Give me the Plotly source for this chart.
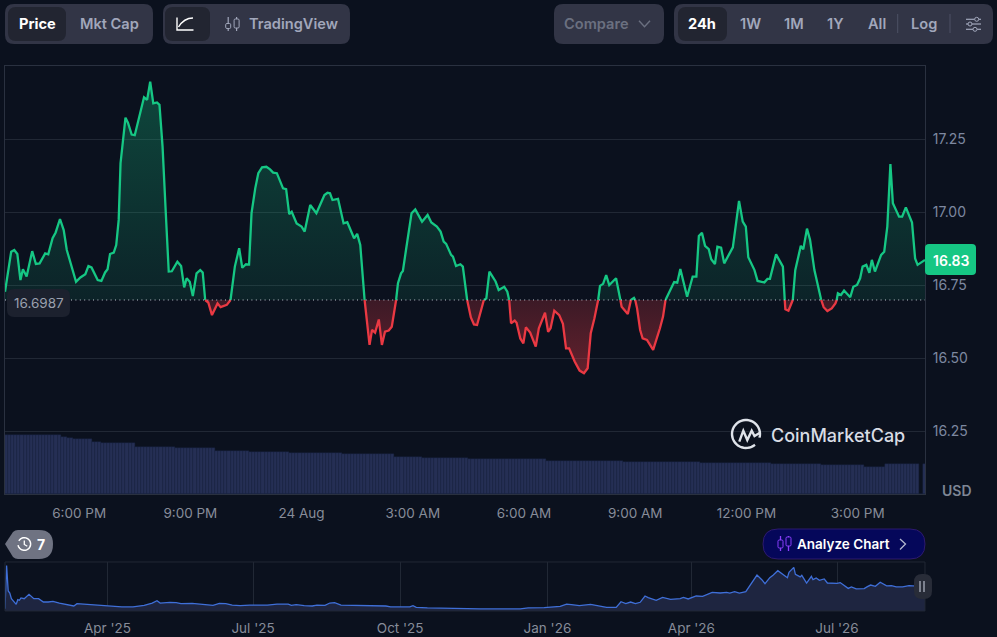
""" CoinMarketCap style 24h price chart with volume bars and a history navigator.

"""
import numpy as np
import pandas as pd
import plotly.graph_objects as go

W, H = 997, 637
BG = "#0b111e"
GRID = "#212835"
GREEN = "#16c784"
RED = "#ea3943"
FONT = "Inter"

open_price = 16.6987
last_price = "16.83"

# minutes after 4:00 PM on 23 Aug
price_minutes = [
    0, 4, 10, 15, 20, 25, 29, 35, 44, 50, 56, 65, 70, 77, 82, 89, 95, 100, 115, 122,
    130, 135, 140, 150, 156, 162, 166, 170, 176, 180, 184, 187, 191, 195, 199, 205, 210, 225, 230, 235,
    240, 246, 250, 255, 260, 265, 270, 279, 285, 290, 294, 299, 304, 310, 316, 320, 324, 329, 335, 344,
    349, 359, 365, 372, 379, 384, 390, 395, 399, 405, 410, 416, 423, 429, 434, 440, 450, 455, 460, 464,
    472, 480, 485, 494, 504, 517, 522, 526, 530, 539, 548, 554, 565, 570, 575, 582, 590, 594, 599, 605,
    610, 615, 621, 626, 630, 633, 636, 641, 644, 649, 658, 664, 675, 684, 690, 699, 705, 710, 714, 722,
    725, 730, 737, 741, 748, 754, 759, 764, 775, 779, 784, 794, 799, 808, 813, 816, 819, 825, 828, 834,
    839, 843, 850, 859, 864, 874, 879, 883, 889, 897, 903, 908, 913, 922, 930, 937, 943, 948, 954, 960,
    963, 968, 973, 978, 989, 996, 998, 1008, 1013, 1018, 1020, 1023, 1028, 1032, 1039, 1049, 1060, 1065, 1069, 1077,
    1083, 1088, 1093, 1104, 1113, 1119, 1123, 1128, 1133, 1139, 1143, 1149, 1153, 1159, 1164, 1178, 1188, 1194, 1199, 1203,
    1213, 1218, 1229, 1234, 1238, 1248, 1259, 1262, 1263, 1268, 1275, 1279, 1288, 1292, 1298, 1303, 1310, 1321, 1325, 1331,
    1338, 1344, 1346, 1348, 1353, 1358, 1368, 1373, 1379, 1384, 1388, 1394, 1399, 1403, 1408, 1418, 1423, 1428, 1433, 1437,
    1447, 1452, 1458, 1468, 1473, 1477, 1489,
]
price_values = [
    16.727, 16.779, 16.864, 16.870, 16.856, 16.767, 16.804, 16.779, 16.866, 16.822, 16.824, 16.858, 16.855, 16.910, 16.930, 16.976, 16.938, 16.870, 16.761, 16.776,
    16.787, 16.815, 16.810, 16.767, 16.764, 16.793, 16.804, 16.856, 16.861, 16.887, 16.973, 17.167, 17.247, 17.323, 17.306, 17.265, 17.263, 17.393, 17.384, 17.446,
    17.372, 17.375, 17.367, 17.224, 17.007, 16.796, 16.797, 16.830, 16.815, 16.742, 16.773, 16.761, 16.712, 16.790, 16.801, 16.793, 16.6987, 16.690, 16.647, 16.687,
    16.674, 16.682, 16.6987, 16.813, 16.876, 16.809, 16.821, 16.820, 16.996, 17.081, 17.133, 17.153, 17.155, 17.146, 17.135, 17.133, 17.081, 17.078, 16.993, 17.001,
    16.961, 16.950, 16.933, 17.024, 16.996, 17.058, 17.066, 17.064, 17.041, 17.045, 16.961, 16.965, 16.910, 16.925, 16.887, 16.6987, 16.545, 16.596, 16.587, 16.632,
    16.545, 16.590, 16.594, 16.607, 16.653, 16.6987, 16.756, 16.790, 16.798, 16.870, 16.996, 17.009, 16.967, 16.990, 16.964, 16.950, 16.933, 16.899, 16.891, 16.853,
    16.847, 16.815, 16.821, 16.813, 16.6987, 16.639, 16.615, 16.613, 16.6987, 16.704, 16.796, 16.762, 16.733, 16.744, 16.727, 16.6987, 16.619, 16.628, 16.621, 16.567,
    16.550, 16.605, 16.587, 16.539, 16.602, 16.655, 16.590, 16.602, 16.662, 16.647, 16.617, 16.533, 16.533, 16.488, 16.457, 16.448, 16.465, 16.585, 16.636, 16.6987,
    16.747, 16.754, 16.784, 16.750, 16.773, 16.6987, 16.676, 16.651, 16.6987, 16.706, 16.6987, 16.670, 16.596, 16.567, 16.562, 16.528, 16.602, 16.642, 16.6987, 16.733,
    16.760, 16.758, 16.805, 16.710, 16.779, 16.779, 16.918, 16.929, 16.884, 16.873, 16.838, 16.822, 16.881, 16.878, 16.824, 16.879, 17.038, 16.967, 16.950, 16.845,
    16.801, 16.764, 16.759, 16.771, 16.771, 16.855, 16.813, 16.6987, 16.667, 16.662, 16.6987, 16.801, 16.884, 16.872, 16.943, 16.904, 16.801, 16.6987, 16.674, 16.661,
    16.670, 16.687, 16.6987, 16.722, 16.716, 16.731, 16.708, 16.744, 16.750, 16.773, 16.813, 16.819, 16.792, 16.836, 16.796, 16.853, 16.864, 16.950, 17.164, 17.030,
    16.984, 16.984, 17.016, 16.964, 16.841, 16.819, 16.836,
]

# 5 minute volume bars, read as runs of equal height
volume_levels = [58.7, 57.5, 56, 55, 52.3, 51.3, 47.3, 46, 43.3, 42, 41, 39.7, 37.3, 36, 34.7, 34.7, 33.3, 32.3, 31.3, 30.7, 30, 29, 27.3, 29.7, 0, 29.7]
volume_counts = [18, 2, 2, 6, 3, 11, 13, 13, 11, 13, 17, 17, 9, 15, 11, 14, 25, 25, 12, 11, 16, 14, 7, 11, 1, 1]

# days after 27 Jan 2025
history_days = [
    0, 1, 2, 3, 4, 6, 7, 8, 9, 10, 12, 15, 18, 21, 24, 27, 30, 34, 39, 43,
    45, 51, 59, 66, 73, 80, 87, 92, 95, 97, 103, 107, 110, 117, 123, 126, 130, 134, 138, 142,
    147, 153, 164, 170, 177, 179, 182, 187, 192, 195, 200, 203, 206, 210, 220, 230, 238, 241, 253, 255,
    257, 264, 272, 280, 289, 297, 309, 322, 327, 337, 347, 351, 354, 359, 366, 371, 376, 382, 385, 388,
    391, 394, 397, 400, 402, 407, 411, 416, 422, 424, 427, 432, 436, 442, 447, 451, 453, 456, 459, 463,
    465, 468, 470, 473, 475, 478, 480, 483, 487, 489, 490, 493, 494, 497, 498, 501, 504, 505, 507, 509,
    512, 514, 520, 522, 527, 529, 532, 537, 539, 541, 544, 547, 551, 554, 557, 561, 565, 568, 575,
]
history_prices = [
    1.6, 31.3, 13.8, 12.4, 8.5, 5.5, 4.6, 7.8, 7.4, 9.0, 8.5, 11.5, 8.5, 8.5, 6.2, 6.2, 6.7, 5.5, 4.6, 3.45,
    5.1, 4.6, 4.1, 3.7, 2.8, 2.8, 3.9, 5.5, 7.1, 5.5, 6.0, 5.75, 5.1, 5.3, 4.6, 3.9, 3.9, 5.3, 5.1, 4.1,
    3.7, 4.1, 4.1, 4.8, 4.8, 3.9, 4.4, 3.7, 3.45, 4.1, 3.9, 5.5, 5.75, 4.1, 3.9, 3.9, 3.45, 2.8, 2.8, 3.7,
    2.5, 2.1, 2.1, 2.1, 1.6, 1.4, 1.15, 1.4, 2.1, 2.3, 3.2, 4.8, 4.4, 3.7, 4.6, 3.45, 2.5, 2.5, 6.4, 5.1,
    6.2, 5.1, 6.0, 10.35, 9.2, 7.4, 9.4, 8.05, 8.5, 9.4, 8.3, 10.35, 10.1, 12.9, 12.4, 12.9, 12.4, 13.3, 12.4, 13.3,
    16.6, 22.3, 24.8, 21.6, 18.9, 23.0, 24.6, 27.8, 24.6, 23.0, 26.7, 30.1, 25.3, 23.5, 24.6, 19.3, 23.9, 21.6, 22.8, 21.2,
    22.1, 19.3, 19.1, 19.6, 15.6, 16.6, 15.2, 15.4, 16.8, 17.9, 17.0, 19.8, 17.3, 17.5, 16.6, 16.6, 17.5, 17.3, 16.83,
]

price_ticks = [16.25, 16.50, 16.75, 17.00, 17.25]
time_tick_minutes = [120, 300, 480, 660, 840, 1020, 1200, 1380]
time_tick_labels = ["6:00 PM", "9:00 PM", "24 Aug", "3:00 AM", "6:00 AM", "9:00 AM", "12:00 PM", "3:00 PM"]
history_tick_dates = ["2025-04-01", "2025-07-01", "2025-10-01", "2026-01-01", "2026-04-01", "2026-07-01"]
history_tick_labels = ["Apr '25", "Jul '25", "Oct '25", "Jan '26", "Apr '26", "Jul '26"]

start = pd.Timestamp("2026-08-23 16:00")
hist_start = pd.Timestamp("2025-01-27")
price = np.array(price_values)
times = start + pd.to_timedelta(price_minutes, unit="min")
volumes = np.repeat(volume_levels, volume_counts)
vol_times = start + pd.to_timedelta(np.arange(len(volumes)) * 5 + 2.5, unit="min")
hist_times = hist_start + pd.to_timedelta(history_days, unit="D")

fig = go.Figure()

# volume on its own scale, one unit per pixel of plot height
fig.add_trace(go.Bar(x=vol_times, y=volumes, yaxis="y2", marker=dict(color="#252f54", line=dict(width=0.4, color="#1c2644")), width=300000))

# fills, each against an invisible baseline trace
fig.add_trace(go.Scatter(x=times, y=[open_price] * len(times), mode="lines", line=dict(width=0)))
fig.add_trace(go.Scatter(x=times, y=np.maximum(price, open_price), mode="lines", line=dict(width=0), fill="tonexty",
                         fillgradient=dict(type="vertical", start=open_price, stop=17.45,
                                           colorscale=[[0, "rgba(22,199,132,0.10)"], [1, "rgba(22,199,132,0.30)"]])))
fig.add_trace(go.Scatter(x=times, y=[open_price] * len(times), mode="lines", line=dict(width=0)))
fig.add_trace(go.Scatter(x=times, y=np.minimum(price, open_price), mode="lines", line=dict(width=0), fill="tonexty",
                         fillgradient=dict(type="vertical", start=open_price, stop=16.44,
                                           colorscale=[[0, "rgba(234,57,67,0.22)"], [1, "rgba(234,57,67,0.40)"]])))

fig.add_trace(go.Scatter(x=times, y=np.where(price >= open_price, price, np.nan), mode="lines",
                         line=dict(color=GREEN, width=2.3)))
fig.add_trace(go.Scatter(x=times, y=np.where(price <= open_price, price, np.nan), mode="lines",
                         line=dict(color=RED, width=2.3)))

fig.add_trace(go.Scatter(x=hist_times, y=history_prices, xaxis="x2", yaxis="y3", mode="lines", fill="tozeroy",
                         fillcolor="#1e2540", line=dict(color="#3f6fd8", width=1.3)))


def pt(x, y):
    return f"{x / W:.5f},{1 - y / H:.5f}"


def rounded(x0, y0, x1, y1, r):
    return (f"M{pt(x0 + r, y0)} L{pt(x1 - r, y0)} Q{pt(x1, y0)} {pt(x1, y0 + r)} L{pt(x1, y1 - r)} "
            f"Q{pt(x1, y1)} {pt(x1 - r, y1)} L{pt(x0 + r, y1)} Q{pt(x0, y1)} {pt(x0, y1 - r)} "
            f"L{pt(x0, y0 + r)} Q{pt(x0, y0)} {pt(x0 + r, y0)} Z")


def polyline(points):
    return "M" + " L".join(pt(x, y) for x, y in points)


def arc(cx, cy, r, a0, a1):
    return [(cx + r * np.cos(np.radians(a)), cy + r * np.sin(np.radians(a))) for a in np.linspace(a0, a1, 40)]


def fill_shape(path, color, border=None):
    line = dict(width=0) if border is None else dict(width=1, color=border)
    fig.add_shape(type="path", xref="paper", yref="paper", path=path, fillcolor=color, line=line, layer="above")


def stroke(path, color, width=1.4):
    fig.add_shape(type="path", xref="paper", yref="paper", path=path, line=dict(color=color, width=width), layer="above")


def label(x, y, text, color, size=14.6, weight=600, family=FONT):
    fig.add_annotation(xref="paper", yref="paper", x=x / W, y=1 - y / H, text=text, showarrow=False,
                       font=dict(family=family, size=size, color=color, weight=weight),
                       xanchor="center", yanchor="middle")


PANEL = "#323546"
ACTIVE = "#222531"
MUTED = "#a1a7bb"

# top buttons
fill_shape(rounded(5, 4, 153, 44, 9), PANEL)
fill_shape(rounded(8, 7, 66, 41, 8), ACTIVE)
label(37, 24, "Price", "#ffffff", weight=700)
label(109, 24, "Mkt Cap", MUTED)

fill_shape(rounded(163, 4, 350, 44, 9), PANEL)
fill_shape(rounded(165, 7, 210, 41, 8), ACTIVE)
stroke(polyline([(177, 17.5), (177, 30), (193.5, 30)]), "#ffffff")
stroke(f"M{pt(178.5, 27)} Q{pt(184, 18)} {pt(193, 18)}", "#ffffff")
for wick_x, top, bottom in [(228.2, 23.5, 28.5), (236.6, 19, 28)]:
    stroke(polyline([(wick_x, 17), (wick_x, 31)]), MUTED, 1.2)
    fill_shape(rounded(wick_x - 2.5, top, wick_x + 2.5, bottom, 1.2), PANEL, MUTED)
label(293, 24, "TradingView", MUTED)

fill_shape(rounded(554, 4, 664, 44, 9), PANEL)
label(596, 24, "Compare", "#6b7080")
stroke(polyline([(639, 20.7), (644.5, 26.7), (650, 20.7)]), "#6b7080")

fill_shape(rounded(674, 4, 993, 44, 9), PANEL)
fill_shape(rounded(678, 7, 727, 41, 8), ACTIVE)
label(702, 24, "24h", "#ffffff", weight=700)
for cx, text in zip([750, 794, 835.5, 876.5, 924], ["1W", "1M", "1Y", "All", "Log"]):
    label(cx, 24, text, MUTED)
for cx in [897.7, 950]:
    stroke(polyline([(cx, 14), (cx, 33)]), "#4d5164", 1)
for ly, kx in [(19.3, 976.7), (24, 970), (29.3, 975)]:
    stroke(polyline([(966, ly), (981, ly)]), MUTED, 1.2)
    fill_shape(rounded(kx - 2, ly - 2, kx + 2, ly + 2, 2), PANEL, MUTED)

# open price line and price labels
fig.add_shape(type="line", xref="x", yref="y", x0=times[0], x1=times[-1], y0=open_price, y1=open_price,
              line=dict(color="#c3c8d2", width=1, dash="1px,3.4px"), layer="above")
fill_shape(rounded(7, 289, 70, 317, 7), "#1c212e")
label(38.5, 303, f"{open_price}", "#9aa0ae", 13.5, 400)
fill_shape(rounded(925, 244, 976, 275, 4), GREEN)
label(950.5, 260, last_price, "#ffffff", 14)
label(957, 490, "USD", "#7e8695", 14)

# logo
stroke(polyline(arc(746, 434, 14, 50, 375)), "#dfe3ea", 2.4)
stroke(polyline([(739.3, 441.7), (743.3, 430.7), (747.3, 440), (751.7, 430.7), (754.5, 436), (759.5, 433)]), "#dfe3ea", 2.4)
label(838, 435, "CoinMarketCap", "#d9dde5", 18, 500)

# history badge
fill_shape("M" + pt(5, 544) + " L" + pt(13, 532) + f" Q{pt(15, 530)} {pt(18, 530)} L{pt(39, 530)} Q{pt(53, 530)} {pt(53, 544)} "
           f"Q{pt(53, 559)} {pt(39, 559)} L{pt(18, 559)} Q{pt(15, 559)} {pt(13, 557)} Z", "#6f7382")
stroke(polyline(arc(24.3, 544, 6.3, -150, 170)), "#ffffff", 1.5)
stroke(polyline([(24.3, 540.5), (24.3, 544.5), (27.3, 546.3)]), "#ffffff", 1.3)
label(41, 544, "7", "#ffffff", 14, 700)

# analyze button
fill_shape(rounded(763, 529, 925, 559, 15), "#05075a", "#2d1a6e")
for wick_x, top, bottom in [(780.5, 540, 548), (788.5, 537, 546)]:
    stroke(polyline([(wick_x, 536), (wick_x, 551)]), "#8a3ffc", 1.3)
    fill_shape(rounded(wick_x - 2.5, top, wick_x + 2.5, bottom, 1.2), "#05075a", "#8a3ffc")
label(843, 544, "Analyze Chart", "#ffffff", 13.5, 600)
stroke(polyline([(900, 539), (905.5, 544), (900, 549.5)]), "#b4b8d0", 1.3)

# navigator frame and pause handle
stroke(polyline([(5, 562), (925, 562), (925, 611), (5, 611), (5, 562)]), GRID, 1)
fill_shape(rounded(914, 574, 932, 599, 8), "#282c38")
stroke(polyline([(920, 581), (920, 592)]), "#aab0bf", 1.3)
stroke(polyline([(924, 581), (924, 592)]), "#aab0bf", 1.3)

tick_font = dict(family=FONT, size=13.5, color="#878c99")
fig.update_layout(
    width=W, height=H, margin=dict(l=0, r=0, t=0, b=0),
    paper_bgcolor=BG, plot_bgcolor=BG, showlegend=False, hovermode=False, bargap=0,
    xaxis=dict(domain=[5 / W, 925 / W], range=[start, start + pd.Timedelta(minutes=1489)], type="date",
               tickmode="array", tickvals=start + pd.to_timedelta(time_tick_minutes, unit="min"), ticktext=time_tick_labels,
               tickfont=tick_font, showgrid=False, showline=True, linecolor="#2a3140", mirror=True,
               ticks="outside", ticklen=7, tickcolor="rgba(0,0,0,0)", zeroline=False),
    yaxis=dict(domain=[1 - 494 / H, 1 - 66 / H], range=[16.0343, 17.5], side="right", tickmode="array",
               tickvals=price_ticks, tickformat=".2f", showgrid=True, gridcolor=GRID, gridwidth=1, zeroline=False,
               tickfont=dict(family=FONT, size=14, color="#7d88a0"), ticks="outside", ticklen=4,
               tickcolor="rgba(0,0,0,0)", showline=True, linecolor="#2a3140", mirror=True),
    yaxis2=dict(overlaying="y", range=[0, 428], visible=False),
    xaxis2=dict(domain=[5 / W, 925 / W], range=[hist_start, hist_start + pd.Timedelta(days=575)], type="date", anchor="y3",
                tickmode="array", tickvals=history_tick_dates, ticktext=history_tick_labels, tickfont=tick_font,
                showgrid=True, gridcolor=GRID, showline=False, zeroline=False,
                ticks="outside", ticklen=5, tickcolor="rgba(0,0,0,0)"),
    yaxis3=dict(domain=[1 - 611 / H, 1 - 562 / H], range=[0, 33.8], anchor="x2", visible=False),
)

# the browser's default body margin would push the fixed size figure off the page
page_fix = ("document.body.style.cssText = 'margin:0;height:637px;overflow:hidden';"
            "document.documentElement.style.overflow = 'hidden';")
fig.write_html("out.html", post_script=page_fix, config={"displayModeBar": False})
